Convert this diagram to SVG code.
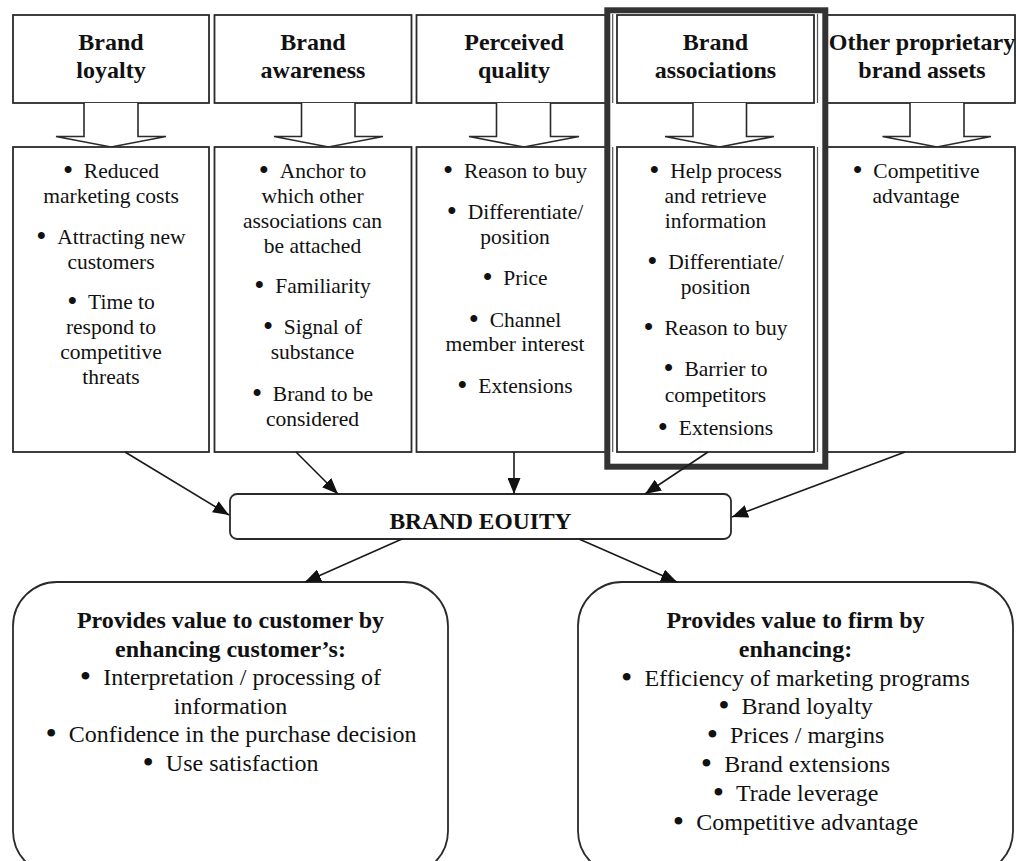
<svg xmlns="http://www.w3.org/2000/svg" width="1016" height="861" viewBox="0 0 1016 861">
  <style>
    .box { fill: #ffffff; stroke: #2a2a2a; stroke-width: 1.8; }
    .thin { stroke: #555555; stroke-width: 1.2; fill: none; }
    .blk { fill: #ffffff; stroke: #2a2a2a; stroke-width: 1.6; stroke-linejoin: miter; }
    .title { font-family: "Liberation Serif", "Times New Roman", serif; font-weight: bold; font-size: 24px; fill: #111111; text-anchor: middle; }
    .body { font-family: "Liberation Serif", "Times New Roman", serif; font-size: 21.5px; fill: #111111; text-anchor: middle; }
    .big { font-family: "Liberation Serif", "Times New Roman", serif; font-size: 24px; fill: #111111; text-anchor: middle; }
    .bigb { font-family: "Liberation Serif", "Times New Roman", serif; font-size: 24px; font-weight: bold; fill: #111111; text-anchor: middle; }
    .eq { font-family: "Liberation Serif", "Times New Roman", serif; font-size: 23.5px; font-weight: bold; fill: #111111; text-anchor: middle; }
    .b { font-size: 1.35em; baseline-shift: -2px; }
    .conn { stroke: #1a1a1a; stroke-width: 1.6; fill: none; }
    .round { fill: #ffffff; stroke: #2a2a2a; stroke-width: 1.8; }
  </style>
  <defs>
    <marker id="head" markerUnits="userSpaceOnUse" markerWidth="17" markerHeight="13" refX="16" refY="6.5" orient="auto">
      <path d="M0,0 L16,6.5 L0,13 z" fill="#111111"/>
    </marker>
    <clipPath id="eqclip">
      <rect x="230" y="494" width="501" height="35"/>
    </clipPath>
  </defs>

  <rect width="1016" height="861" fill="#ffffff"/>

  <!-- Column 1: Brand loyalty -->
  <g id="brand-loyalty">
    <rect class="box" x="13" y="15" width="196" height="88"/>
    <text class="title" x="111" y="50">Brand</text>
    <text class="title" x="111" y="77.5">loyalty</text>
    <path class="blk" d="M84,103 V136.5 H56 L111,147 L166,136.5 H138 V103"/>
    <rect class="box" x="13" y="147" width="196" height="305"/>
    <text class="body" x="111" y="178"><tspan class="b">•</tspan>&#8194;Reduced</text>
    <text class="body" x="111" y="203">marketing costs</text>
    <text class="body" x="111" y="244"><tspan class="b">•</tspan>&#8194;Attracting new</text>
    <text class="body" x="111" y="269">customers</text>
    <text class="body" x="111" y="309"><tspan class="b">•</tspan>&#8194;Time to</text>
    <text class="body" x="111" y="334">respond to</text>
    <text class="body" x="111" y="359">competitive</text>
    <text class="body" x="111" y="384">threats</text>
  </g>

  <!-- Column 2: Brand awareness -->
  <g id="brand-awareness">
    <rect class="box" x="214.5" y="15" width="197" height="88"/>
    <text class="title" x="313" y="50">Brand</text>
    <text class="title" x="313" y="77.5">awareness</text>
    <path class="blk" d="M301.5,103 V136.5 H274 L328.5,147 L383,136.5 H355 V103"/>
    <rect class="box" x="214.5" y="147" width="197" height="305"/>
    <text class="body" x="312.5" y="178"><tspan class="b">•</tspan>&#8194;Anchor to</text>
    <text class="body" x="312.5" y="203">which other</text>
    <text class="body" x="312.5" y="228">associations can</text>
    <text class="body" x="312.5" y="253">be attached</text>
    <text class="body" x="312.5" y="293"><tspan class="b">•</tspan>&#8194;Familiarity</text>
    <text class="body" x="312.5" y="334"><tspan class="b">•</tspan>&#8194;Signal of</text>
    <text class="body" x="312.5" y="359">substance</text>
    <text class="body" x="312.5" y="401"><tspan class="b">•</tspan>&#8194;Brand to be</text>
    <text class="body" x="312.5" y="426">considered</text>
  </g>

  <!-- Column 3: Perceived quality -->
  <g id="perceived-quality">
    <rect class="box" x="416.5" y="15" width="191.5" height="88"/>
    <text class="title" x="514" y="50">Perceived</text>
    <text class="title" x="514" y="77.5">quality</text>
    <path class="blk" d="M496.5,103 V136.5 H469 L524,147 L579,136.5 H550.5 V103"/>
    <rect class="box" x="416.5" y="147" width="191.5" height="305"/>
    <text class="body" x="515" y="178"><tspan class="b">•</tspan>&#8194;Reason to buy</text>
    <text class="body" x="515" y="219"><tspan class="b">•</tspan>&#8194;Differentiate/</text>
    <text class="body" x="515" y="244">position</text>
    <text class="body" x="515" y="285"><tspan class="b">•</tspan>&#8194;Price</text>
    <text class="body" x="515" y="327"><tspan class="b">•</tspan>&#8194;Channel</text>
    <text class="body" x="515" y="351">member interest</text>
    <text class="body" x="515" y="393"><tspan class="b">•</tspan>&#8194;Extensions</text>
  </g>

  <!-- Column 4: Brand associations -->
  <g id="brand-associations">
    <line class="thin" x1="612.7" y1="14" x2="612.7" y2="103"/>
    <line class="thin" x1="612.7" y1="147" x2="612.7" y2="452"/>
    <line class="thin" x1="817.5" y1="14" x2="817.5" y2="103"/>
    <line class="thin" x1="817.5" y1="147" x2="817.5" y2="452"/>
    <rect class="box" x="617" y="15" width="197" height="88"/>
    <text class="title" x="715.5" y="50">Brand</text>
    <text class="title" x="715.5" y="77.5">associations</text>
    <path class="blk" d="M693,103 V136.5 H665 L719.5,147 L774,136.5 H746.5 V103"/>
    <rect class="box" x="617" y="147" width="197" height="305"/>
    <text class="body" x="715.5" y="178"><tspan class="b">•</tspan>&#8194;Help process</text>
    <text class="body" x="715.5" y="203">and retrieve</text>
    <text class="body" x="715.5" y="228">information</text>
    <text class="body" x="715.5" y="269"><tspan class="b">•</tspan>&#8194;Differentiate/</text>
    <text class="body" x="715.5" y="294">position</text>
    <text class="body" x="715.5" y="335"><tspan class="b">•</tspan>&#8194;Reason to buy</text>
    <text class="body" x="715.5" y="376"><tspan class="b">•</tspan>&#8194;Barrier to</text>
    <text class="body" x="715.5" y="402">competitors</text>
    <text class="body" x="715.5" y="435"><tspan class="b">•</tspan>&#8194;Extensions</text>
  </g>

  <!-- Column 5: Other proprietary brand assets -->
  <g id="other-assets">
    <rect class="box" x="827" y="15" width="188" height="88"/>
    <text class="title" x="922" y="50">Other proprietary</text>
    <text class="title" x="922" y="77.5">brand assets</text>
    <path class="blk" d="M910,103 V136.5 H882.5 L937,147 L991,136.5 H964 V103"/>
    <rect class="box" x="827" y="147" width="188" height="305"/>
    <text class="body" x="916" y="178"><tspan class="b">•</tspan>&#8194;Competitive</text>
    <text class="body" x="916" y="203">advantage</text>
  </g>

  <!-- Highlight frame around the associations column -->
  <g id="highlight">
    <rect x="607.3" y="10.3" width="218" height="456.4" fill="none" stroke="#333333" stroke-width="6"/>
  </g>

  <!-- Central node -->
  <g id="brand-equity">
    <rect class="box" x="230" y="494" width="501" height="45" rx="7"/>
    <text class="eq" x="480.5" y="529" clip-path="url(#eqclip)">BRAND EQUITY</text>
  </g>

  <!-- Value to customer -->
  <g id="value-customer">
    <rect class="round" x="13" y="582" width="435" height="293" rx="44"/>
    <text class="bigb" x="230.5" y="628">Provides value to customer by</text>
    <text class="bigb" x="230.5" y="656.5">enhancing customer’s:</text>
    <text class="big" x="230.5" y="685"><tspan class="b">•</tspan>&#8194;Interpretation / processing of</text>
    <text class="big" x="230.5" y="713.5">information</text>
    <text class="big" x="231" y="742"><tspan class="b">•</tspan>&#8194;Confidence in the purchase decision</text>
    <text class="big" x="230.5" y="771"><tspan class="b">•</tspan>&#8194;Use satisfaction</text>
  </g>

  <!-- Value to firm -->
  <g id="value-firm">
    <rect class="round" x="578" y="582" width="435" height="293" rx="44"/>
    <text class="bigb" x="795.5" y="628">Provides value to firm by</text>
    <text class="bigb" x="795.5" y="656.5">enhancing:</text>
    <text class="big" x="795.5" y="685.5"><tspan class="b">•</tspan>&#8194;Efficiency of marketing programs</text>
    <text class="big" x="795.5" y="714"><tspan class="b">•</tspan>&#8194;Brand loyalty</text>
    <text class="big" x="795.5" y="743"><tspan class="b">•</tspan>&#8194;Prices / margins</text>
    <text class="big" x="795.5" y="772"><tspan class="b">•</tspan>&#8194;Brand extensions</text>
    <text class="big" x="795.5" y="801"><tspan class="b">•</tspan>&#8194;Trade leverage</text>
    <text class="big" x="795.5" y="830"><tspan class="b">•</tspan>&#8194;Competitive advantage</text>
  </g>

  <!-- Connectors -->
  <g id="connectors">
    <line class="conn" x1="125" y1="452" x2="229" y2="515" marker-end="url(#head)"/>
    <line class="conn" x1="296" y1="452" x2="338" y2="494" marker-end="url(#head)"/>
    <line class="conn" x1="514" y1="452" x2="514" y2="494" marker-end="url(#head)"/>
    <line class="conn" x1="708" y1="452" x2="645" y2="494" marker-end="url(#head)"/>
    <line class="conn" x1="905" y1="452" x2="732" y2="517" marker-end="url(#head)"/>
    <line class="conn" x1="402" y1="539" x2="305" y2="582" marker-end="url(#head)"/>
    <line class="conn" x1="579" y1="539" x2="677" y2="582" marker-end="url(#head)"/>
  </g>
</svg>
